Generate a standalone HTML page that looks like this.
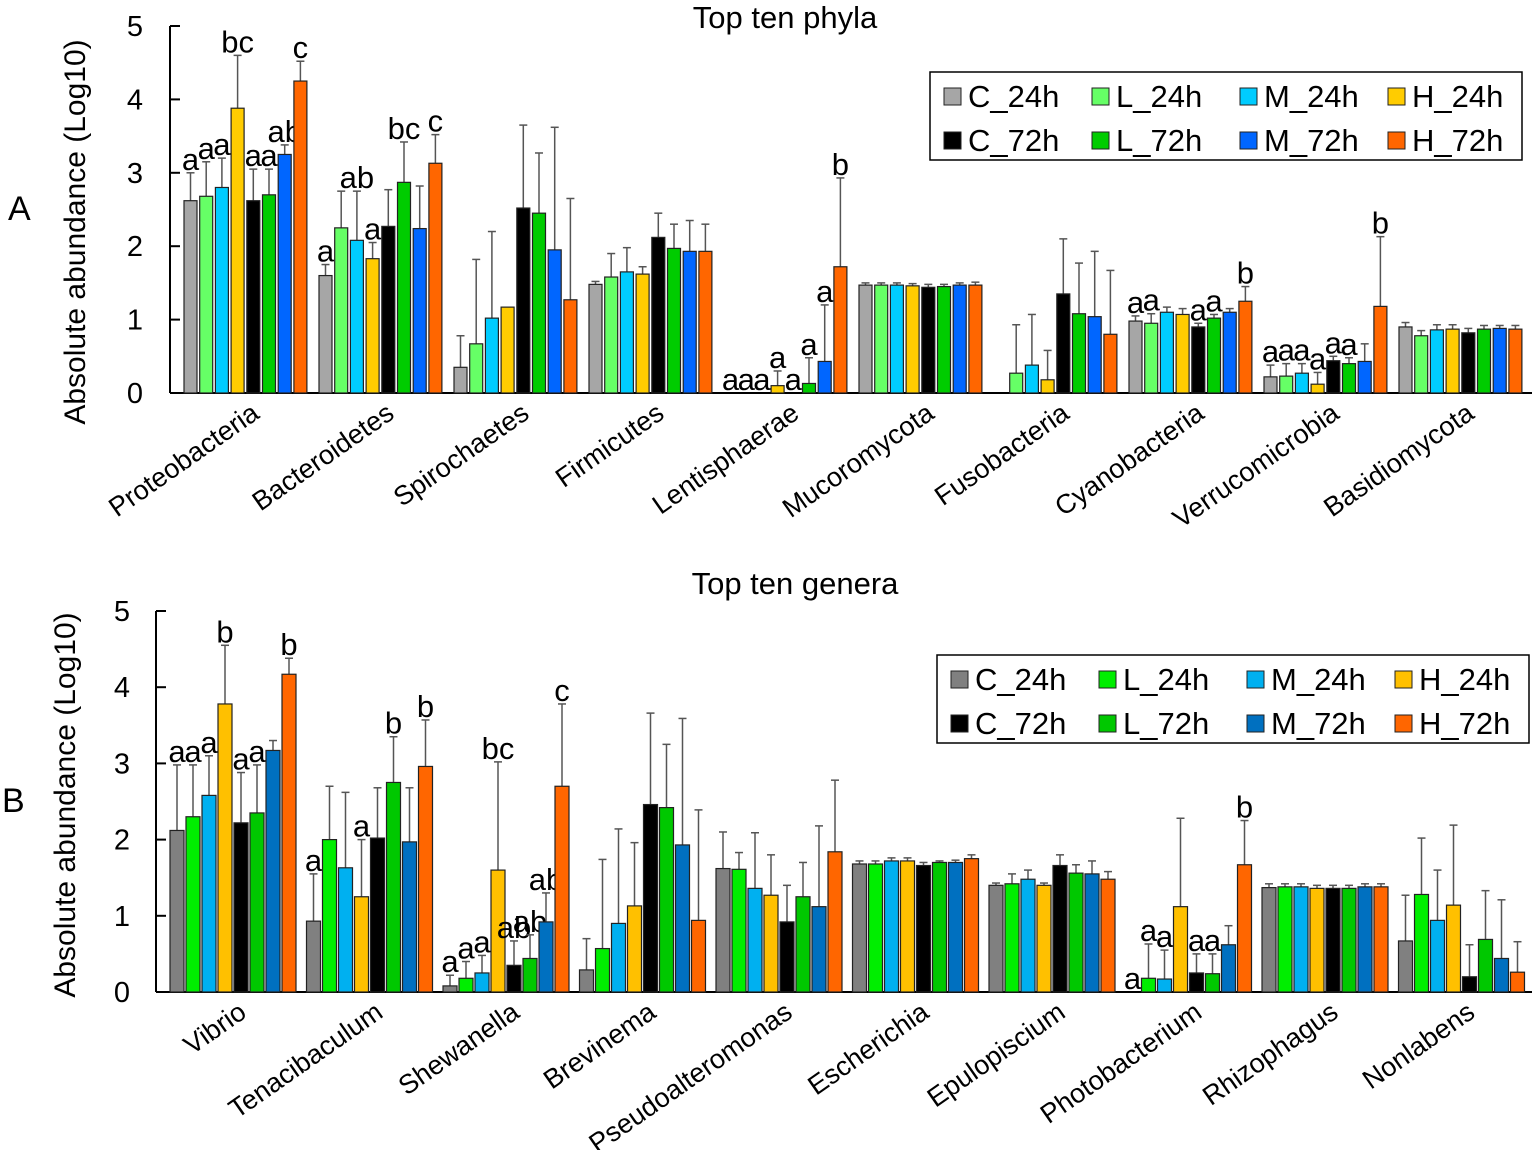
<!DOCTYPE html>
<html><head><meta charset="utf-8"><style>body{margin:0;background:#fff}svg{display:block;font-family:"Liberation Sans",Arial,sans-serif}</style></head>
<body>
<svg id="s" width="1535" height="1150" xmlns="http://www.w3.org/2000/svg"></svg>
<script>
const s=document.getElementById('s');let h='';
function panel(o){
 const {ax,base,top,x0,bw,pitch,gp,cols,groups,title,tx,ty,letter,ly,tickx,leg}=o;
 const u=(base-top)/5;
 h+=`<text x="${tx}" y="${ty}" font-size="31" text-anchor="middle">${title}</text>`;
 h+=`<line x1="${ax}" y1="${top}" x2="${ax}" y2="${base}" stroke="#000" stroke-width="2"/>`;
 h+=`<line x1="${ax}" y1="${base}" x2="1532" y2="${base}" stroke="#000" stroke-width="2"/>`;
 for(let i=0;i<=5;i++){const y=base-i*u;h+=`<line x1="${ax}" y1="${y}" x2="${ax+10}" y2="${y}" stroke="#000" stroke-width="2"/><text x="${tickx}" y="${y+10}" font-size="29" text-anchor="end">${i}</text>`;}
 h+=`<text x="${letter[0]}" y="${letter[1]}" font-size="34">${letter[2]}</text>`;
 h+=`<text transform="translate(${ly[0]},${ly[1]}) rotate(-90)" font-size="30" text-anchor="middle">Absolute abundance (Log10)</text>`;
 groups.forEach((g,gi)=>{
  const gx=x0+gi*gp;
  g.v.forEach((v,i)=>{
   const x=gx+i*pitch, y=base-v[0]*u;
   if(v[1]>v[0]){const ey=base-v[1]*u;const cx=x+bw/2;h+=`<line x1="${cx}" y1="${ey}" x2="${cx}" y2="${y}" stroke="#555" stroke-width="1.5"/><line x1="${cx-4}" y1="${ey}" x2="${cx+4}" y2="${ey}" stroke="#555" stroke-width="1.5"/>`;}
   if(v[0]>0)h+=`<rect x="${x}" y="${y}" width="${bw}" height="${base-y}" fill="${cols[i]}" stroke="#222" stroke-width="1.2"/>`;
   if(v[2]){const ty2=base-Math.max(v[0],v[1])*u-3;h+=`<text x="${x+bw/2}" y="${ty2}" font-size="31" text-anchor="middle">${v[2]}</text>`;}
  });
  const c=gx+4*pitch;
  h+=`<text transform="translate(${c+14},${base+24}) rotate(-35)" font-size="27" text-anchor="end">${g.n}</text>`;
 });
 const [lx,lyy]=leg; h+=`<rect x="${lx}" y="${lyy}" width="592" height="88" fill="#fff" stroke="#000" stroke-width="1.5"/>`;
 const names=['C_24h','L_24h','M_24h','H_24h','C_72h','L_72h','M_72h','H_72h'];
 names.forEach((n,i)=>{const r=i<4?0:1,c=i%4;const x=lx+14+c*148,y=lyy+16+r*44;
  h+=`<rect x="${x}" y="${y}" width="17" height="17" fill="${cols[i]}" stroke="#222"/><text x="${x+24}" y="${y+19}" font-size="31">${n}</text>`;});
}
panel({ax:170,base:393,top:26,x0:184,bw:13,pitch:15.7,gp:135,tickx:143,
 cols:['#a6a6a6','#66ff66','#00ccff','#ffcc00','#000000','#00cc00','#0066ff','#ff6600'],
 title:'Top ten phyla',tx:785,ty:28,letter:[8,220,'A'],ly:[85,232],leg:[930,72],
 groups:[
 {n:'Proteobacteria',v:[[2.62,3.0,'a'],[2.68,3.15,'a'],[2.8,3.2,'a'],[3.88,4.6,'bc'],[2.62,3.05,'a'],[2.7,3.05,'a'],[3.25,3.38,'ab'],[4.25,4.52,'c']]},
 {n:'Bacteroidetes',v:[[1.6,1.75,'a'],[2.25,2.75],[2.08,2.75,'ab'],[1.83,2.05,'a'],[2.27,2.77],[2.87,3.42,'bc'],[2.24,2.82],[3.13,3.52,'c']]},
 {n:'Spirochaetes',v:[[0.35,0.78],[0.67,1.82],[1.02,2.2],[1.17,0],[2.52,3.65],[2.45,3.27],[1.95,3.62],[1.27,2.65]]},
 {n:'Firmicutes',v:[[1.48,1.52],[1.58,1.9],[1.65,1.98],[1.62,1.72],[2.12,2.45],[1.97,2.3],[1.93,2.35],[1.93,2.3]]},
 {n:'Lentisphaerae',v:[[0,0,'a'],[0,0,'a'],[0,0,'a'],[0.1,0.3,'a'],[0,0,'a'],[0.13,0.48,'a'],[0.43,1.2,'a'],[1.72,2.93,'b']]},
 {n:'Mucoromycota',v:[[1.47,1.5],[1.47,1.5],[1.47,1.5],[1.46,1.49],[1.44,1.48],[1.45,1.48],[1.47,1.5],[1.47,1.51]]},
 {n:'Fusobacteria',v:[[0,0],[0.27,0.93],[0.38,1.07],[0.18,0.58],[1.35,2.1],[1.08,1.77],[1.04,1.93],[0.8,1.67]]},
 {n:'Cyanobacteria',v:[[0.98,1.05,'a'],[0.95,1.08,'a'],[1.1,1.17],[1.07,1.15],[0.9,0.95,'a'],[1.02,1.07,'a'],[1.1,1.15],[1.25,1.45,'b']]},
 {n:'Verrucomicrobia',v:[[0.22,0.38,'a'],[0.23,0.4,'a'],[0.27,0.4,'a'],[0.12,0.28,'a'],[0.44,0.5,'a'],[0.4,0.48,'a'],[0.43,0.67],[1.18,2.13,'b']]},
 {n:'Basidiomycota',v:[[0.9,0.96],[0.78,0.85],[0.86,0.93],[0.87,0.93],[0.82,0.88],[0.87,0.92],[0.88,0.92],[0.87,0.92]]}]});
panel({ax:156,base:992,top:611,x0:170,bw:14,pitch:16,gp:136.5,tickx:130,
 cols:['#808080','#00ee00','#00b0f0','#ffc000','#000000','#00c800','#0070c0','#ff6600'],
 title:'Top ten genera',tx:795,ty:594,letter:[2,812,'B'],ly:[75,805],leg:[937,655],
 groups:[
 {n:'Vibrio',v:[[2.12,2.98,'a'],[2.3,2.98,'a'],[2.58,3.1,'a'],[3.78,4.55,'b'],[2.22,2.88,'a'],[2.35,2.98,'a'],[3.17,3.3],[4.17,4.38,'b']]},
 {n:'Tenacibaculum',v:[[0.93,1.55,'a'],[2.0,2.7],[1.63,2.62],[1.25,2.0,'a'],[2.02,2.68],[2.75,3.35,'b'],[1.97,2.68],[2.96,3.57,'b']]},
 {n:'Shewanella',v:[[0.08,0.22,'a'],[0.18,0.4,'a'],[0.25,0.48,'a'],[1.6,3.02,'bc'],[0.35,0.67,'ab'],[0.44,0.75,'ab'],[0.92,1.3,'ab'],[2.7,3.78,'c']]},
 {n:'Brevinema',v:[[0.29,0.7],[0.57,1.74],[0.9,2.14],[1.13,1.96],[2.46,3.66],[2.42,3.25],[1.93,3.59],[0.94,2.39]]},
 {n:'Pseudoalteromonas',v:[[1.62,2.1],[1.61,1.83],[1.36,2.09],[1.27,1.8],[0.92,1.4],[1.25,1.7],[1.12,2.18],[1.84,2.78]]},
 {n:'Escherichia',v:[[1.68,1.72],[1.68,1.72],[1.72,1.76],[1.72,1.76],[1.66,1.7],[1.7,1.72],[1.7,1.73],[1.75,1.8]]},
 {n:'Epulopiscium',v:[[1.4,1.43],[1.42,1.55],[1.48,1.6],[1.4,1.43],[1.66,1.8],[1.56,1.67],[1.55,1.72],[1.48,1.58]]},
 {n:'Photobacterium',v:[[0,0,'a'],[0.18,0.63,'a'],[0.17,0.55,'a'],[1.12,2.28],[0.25,0.5,'a'],[0.24,0.5,'a'],[0.62,0.87],[1.67,2.25,'b']]},
 {n:'Rhizophagus',v:[[1.37,1.42],[1.38,1.42],[1.38,1.42],[1.36,1.4],[1.36,1.4],[1.36,1.4],[1.38,1.42],[1.38,1.42]]},
 {n:'Nonlabens',v:[[0.67,1.27],[1.28,2.02],[0.94,1.6],[1.14,2.19],[0.2,0.62],[0.69,1.33],[0.44,1.21],[0.26,0.66]]}]});
s.innerHTML=h;
</script>
</body></html>
